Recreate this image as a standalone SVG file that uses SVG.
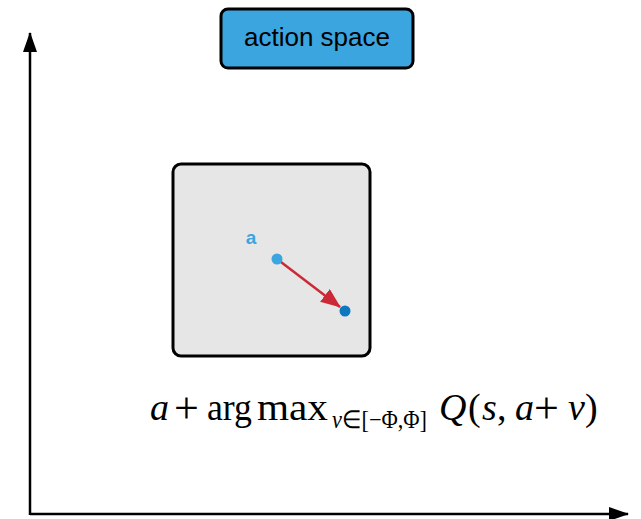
<svg xmlns="http://www.w3.org/2000/svg" width="641" height="519" viewBox="0 0 641 519">
<style>
.box{stroke:#000;stroke-width:3}
.math{font-family:"Liberation Serif","Times New Roman",serif;fill:#000;font-size:38px}
.sub{font-size:25px}
.op{font-size:44px}
.it{font-style:italic}
.axis{stroke:#000;stroke-width:2.5}
</style>
<defs>
<marker id="axv" markerWidth="20" markerHeight="14" refX="19" refY="7" orient="auto" markerUnits="userSpaceOnUse" viewBox="0 0 20 14">
<path d="M0,0 L20,7 L0,14 z" fill="#000"/>
</marker>
<marker id="redh" markerWidth="20" markerHeight="16" refX="19" refY="8" orient="auto" markerUnits="userSpaceOnUse" viewBox="0 0 20 16">
<path d="M0,0 L20,8 L0,16 z" fill="#cc2936"/>
</marker>
</defs>
<g id="action-space">
<rect class="box" x="221" y="9" width="192" height="59" rx="7" fill="#3aa5de"/>
<text x="317" y="46" text-anchor="middle" font-family="Liberation Sans, Arial, sans-serif" font-size="26" fill="#000">action space</text>
</g>
<g id="region">
<rect class="box" x="173" y="164" width="197" height="192" rx="8" fill="#e6e6e6"/>
</g>
<g id="connectors">
<line class="axis" x1="30" y1="515" x2="30" y2="33" marker-end="url(#axv)"/>
<line class="axis" x1="30" y1="514" x2="628" y2="514" marker-end="url(#axv)"/>
<line x1="277" y1="259" x2="340" y2="307" stroke="#cc2936" stroke-width="2.5" marker-end="url(#redh)"/>
</g>
<g id="point-a">
<text x="251" y="244" text-anchor="middle" font-family="Liberation Sans, Arial, sans-serif" font-size="19" font-weight="bold" fill="#3aa5de">a</text>
<circle cx="277" cy="259" r="5.5" fill="#3aa5de"/>
</g>
<g id="point-new">
<circle cx="345" cy="311" r="5.5" fill="#0a79bd"/>
</g>
<g id="formula" class="math">
<text x="150" y="420" class="it">a</text>
<text x="174" y="423" class="op">+</text>
<text x="207" y="420" textLength="45" lengthAdjust="spacingAndGlyphs">arg</text>
<text x="257" y="420" textLength="71" lengthAdjust="spacingAndGlyphs">max</text>
<text x="332" y="428" class="sub" textLength="95" lengthAdjust="spacingAndGlyphs"><tspan class="it">v</tspan>∈[−Φ,Φ]</text>
<text x="439" y="420" class="it">Q</text>
<text x="468" y="420">(</text>
<text x="482" y="420" class="it">s</text>
<text x="497" y="420">,</text>
<text x="515" y="420" class="it">a</text>
<text x="534" y="423" class="op">+</text>
<text x="568" y="420" class="it">v</text>
<text x="585" y="420">)</text>
</g>
</svg>
